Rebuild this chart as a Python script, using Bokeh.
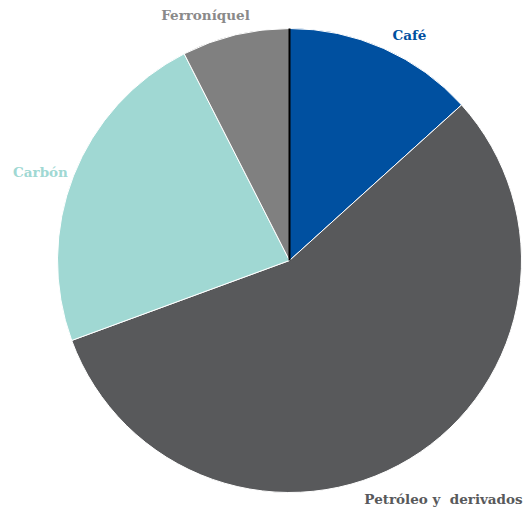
import math
from bokeh.plotting import figure
from bokeh.models import ColumnDataSource, Range1d
from bokeh.core.properties import value
from bokeh.embed import file_html
from bokeh.resources import INLINE

categories = ["Café", "Petróleo y\u00a0 derivados", "Carbón", "Ferroníquel"]
shares = [13.3, 56.1, 23.1, 7.5]
colors = ["#0050A0", "#58595B", "#A0D8D3", "#808080"]
label_colors = ["#0050A0", "#58595B", "#A0D8D3", "#8A8A8A"]

W, H = 525, 511
cx, cy, R = 289, H - 260, 232

total = sum(shares)
starts, ends = [], []
acc = 0.0
for s in shares:
    a0 = math.pi / 2 - 2 * math.pi * acc / total
    acc += s
    a1 = math.pi / 2 - 2 * math.pi * acc / total
    starts.append(a0)
    ends.append(a1)

src = ColumnDataSource(dict(cat=categories, start=starts, end=ends, color=colors))

p = figure(width=W, height=H, output_backend="svg", toolbar_location=None,
           x_range=Range1d(0, W), y_range=Range1d(0, H), min_border=0)
p.axis.visible = False
p.grid.visible = False
p.outline_line_color = None
p.background_fill_color = "white"

p.wedge(x=cx, y=cy, radius=R, start_angle="start", end_angle="end", direction="clock",
        fill_color="color", line_color="white", line_width=1, source=src)
p.ray(x=[cx], y=[cy], angle=math.pi / 2, length=R, line_color="black", line_width=2)

lx = [409, 443, 40, 205]
ly = [H - 34, H - 498, H - 171, H - 14]
lab = ColumnDataSource(dict(x=lx, y=ly, t=categories, c=label_colors))
p.text(x="x", y="y", text="t", text_color="c", source=lab, text_align="center",
       text_baseline="middle", text_font=value("DejaVu Serif"), text_font_size="13.5px",
       text_font_style="bold")

open("out.html", "w").write(file_html(p, INLINE))
